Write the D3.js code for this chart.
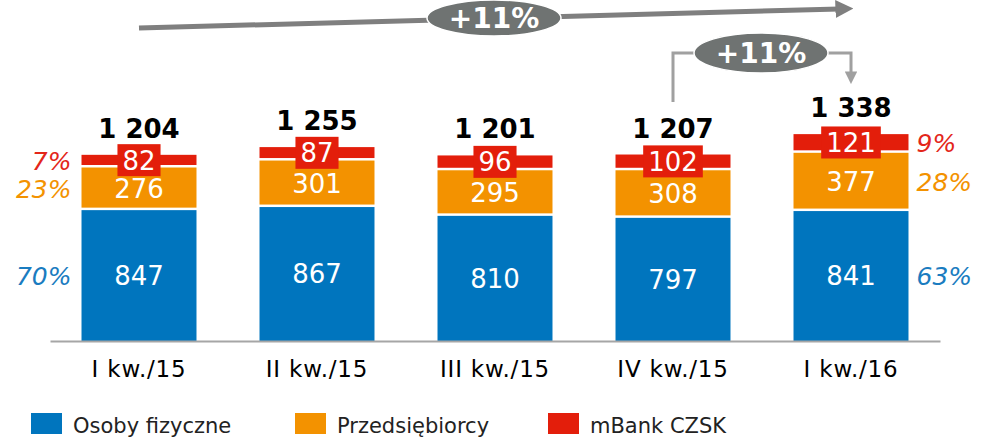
<!DOCTYPE html>
<html>
<head>
<meta charset="utf-8">
<script src="https://cdn.jsdelivr.net/npm/d3@7"></script>
<style>
  body { margin: 0; background: #fff; }
  svg { font-family: Verdana, "DejaVu Sans", sans-serif; }
</style>
</head>
<body>
<div class="content-container"></div>
<script>
const categories = ["I kw./15", "II kw./15", "III kw./15", "IV kw./15", "I kw./16"];
const osobyFizyczne = [847, 867, 810, 797, 841];
const przedsiebiorcy = [276, 301, 295, 308, 377];
const mBankCZSK = [82, 87, 96, 102, 121];
const totals = ["1 204", "1 255", "1 201", "1 207", "1 338"];
const sharesFirst = ["70%", "23%", "7%"];
const sharesLast = ["63%", "28%", "9%"];
const growthLabels = ["+11%", "+11%"];
const seriesNames = ["Osoby fizyczne", "Przedsiębiorcy", "mBank CZSK"];

const width = 988;
const height = 440;
const baseY = 341;
const colors = ["#0075be", "#f39200", "#e31e0b"];
const pctColors = ["#1a7cc0", "#f39200", "#e3261a"];

const svg = d3.select(".content-container")
  .append("svg")
  .attr("width", width)
  .attr("height", height);

// SCALES
const xScale = d3.scaleBand()
  .domain(categories)
  .range([50, 940])
  .paddingInner(0.354)
  .paddingOuter(0.177);

const yScale = d3.scaleLinear()
  .domain([0, 1400])
  .range([baseY, baseY - 1400 * 0.1545]);

// stack the three series
const rows = categories.map((c, i) => ({
  cat: c, osoby: osobyFizyczne[i], przed: przedsiebiorcy[i], czsk: mBankCZSK[i]
}));
const stack = d3.stack().keys(["osoby", "przed", "czsk"]);
const layers = stack(rows);

const bw = xScale.bandwidth();

layers.forEach(function (layer, k) {
  svg.append("g")
    .selectAll("rect")
    .data(layer)
    .enter()
    .append("rect")
    .attr("x", d => xScale(d.data.cat))
    .attr("y", d => yScale(d[1]))
    .attr("width", bw)
    .attr("height", d => yScale(d[0]) - yScale(d[1]) - (k === 0 ? 0 : 2.5))
    .attr("fill", colors[k]);
});

// value labels in blue and orange segments
[0, 1].forEach(function (k) {
  svg.append("g")
    .selectAll("text")
    .data(layers[k])
    .enter()
    .append("text")
    .attr("x", d => xScale(d.data.cat) + bw / 2)
    .attr("y", d => (yScale(d[0]) + yScale(d[1])) / 2)
    .attr("dy", "0.36em")
    .attr("text-anchor", "middle")
    .style("font-size", "26px")
    .style("fill", "#fff")
    .text(d => d[1] - d[0]);
});

// red segment labels sit in a red box
const redG = svg.append("g")
  .selectAll("g")
  .data(layers[2])
  .enter()
  .append("g")
  .attr("transform", d => "translate(" + (xScale(d.data.cat) + bw / 2) + "," + ((yScale(d[0]) + yScale(d[1])) / 2 - 1) + ")");

redG.append("rect").attr("class", "lblbox").attr("fill", colors[2]);
redG.append("text")
  .attr("dy", "0.36em")
  .attr("text-anchor", "middle")
  .style("font-size", "26px")
  .style("fill", "#fff")
  .text(d => d[1] - d[0]);
redG.each(function () {
  const g = d3.select(this);
  const w = g.select("text").node().getComputedTextLength() + 10;
  g.select("rect").attr("x", -w / 2).attr("y", -16).attr("width", w).attr("height", 32);
});

// totals
svg.append("g")
  .selectAll("text")
  .data(layers[2])
  .enter()
  .append("text")
  .attr("x", d => xScale(d.data.cat) + bw / 2)
  .attr("y", d => yScale(d[1]) - 17)
  .attr("text-anchor", "middle")
  .style("font-size", "26px")
  .style("font-weight", "bold")
  .style("fill", "#000")
  .text((d, i) => totals[i]);

// share labels beside first and last bar
function shares(idx, labels, x, anchor) {
  svg.append("g")
    .selectAll("text")
    .data(labels)
    .enter()
    .append("text")
    .attr("x", x)
    .attr("y", (d, k) => (yScale(layers[k][idx][0]) + yScale(layers[k][idx][1])) / 2)
    .attr("dy", "0.36em")
    .attr("text-anchor", anchor)
    .style("font-size", "25px")
    .style("font-style", "italic")
    .style("fill", (d, k) => pctColors[k])
    .text(d => d);
}
shares(0, sharesFirst, xScale(categories[0]) - 10, "end");
shares(4, sharesLast, xScale(categories[4]) + bw + 8, "start");

// AXIS
const xAxis = d3.axisBottom(xScale).tickSize(0).tickPadding(20);
const axisG = svg.append("g")
  .attr("transform", "translate(0," + baseY + ")")
  .call(xAxis);
axisG.select(".domain").attr("stroke", "#a6a6a6").attr("stroke-width", 2);
axisG.selectAll("text")
  .style("font-family", "Verdana, 'DejaVu Sans', sans-serif")
  .style("font-size", "23px")
  .style("letter-spacing", "0.8px")
  .style("fill", "#000");

// GROWTH ANNOTATIONS
const defs = svg.append("defs");
defs.append("marker")
  .attr("id", "headBig")
  .attr("viewBox", "0 0 10 10")
  .attr("refX", 2).attr("refY", 5)
  .attr("markerWidth", 3.6).attr("markerHeight", 3.6)
  .attr("orient", "auto")
  .append("path").attr("d", "M0,0L10,5L0,10Z").attr("fill", "#7f7f7f");
defs.append("marker")
  .attr("id", "headSmall")
  .attr("viewBox", "0 0 10 10")
  .attr("refX", 2).attr("refY", 5)
  .attr("markerWidth", 4.2).attr("markerHeight", 4.2)
  .attr("orient", "auto")
  .append("path").attr("d", "M0,0L10,5L0,10Z").attr("fill", "#a0a0a0");

const c1 = xScale(categories[0]) + bw / 2;
const c4 = xScale(categories[3]) + bw / 2;
const c5 = xScale(categories[4]) + bw / 2;

svg.append("line")
  .attr("x1", c1).attr("y1", 28)
  .attr("x2", c5 - 12).attr("y2", 9)
  .attr("stroke", "#7f7f7f")
  .attr("stroke-width", 5)
  .attr("marker-end", "url(#headBig)");

svg.append("path")
  .attr("d", "M" + c4 + ",102V53H" + c5 + "V74")
  .attr("fill", "none")
  .attr("stroke", "#a0a0a0")
  .attr("stroke-width", 3)
  .attr("marker-end", "url(#headSmall)");

const bubbles = [{ x: 494, y: 18, ry: 18 }, { x: (c4 + c5) / 2 - 1, y: 53, ry: 20 }];
bubbles.forEach(function (b, i) {
  svg.append("ellipse")
    .attr("cx", b.x).attr("cy", b.y)
    .attr("rx", 67).attr("ry", b.ry)
    .attr("fill", "#6f7372")
    .attr("stroke", "#fff")
    .attr("stroke-width", 1.5);
  svg.append("text")
    .attr("x", b.x).attr("y", b.y)
    .attr("dy", "0.37em")
    .attr("text-anchor", "middle")
    .style("font-size", "28px")
    .style("font-weight", "bold")
    .style("fill", "#fff")
    .text(growthLabels[i]);
});

// LEGEND
const legendX = [31, 295, 548];
const legend = svg.append("g")
  .selectAll("g")
  .data(seriesNames)
  .enter()
  .append("g")
  .attr("transform", (d, i) => "translate(" + legendX[i] + ",413)");
legend.append("rect")
  .attr("width", 31).attr("height", 21)
  .attr("fill", (d, i) => colors[i]);
legend.append("text")
  .attr("x", 42).attr("y", 20)
  .style("font-size", "21px")
  .style("fill", "#222")
  .text(d => d);
</script>
</body>
</html>
